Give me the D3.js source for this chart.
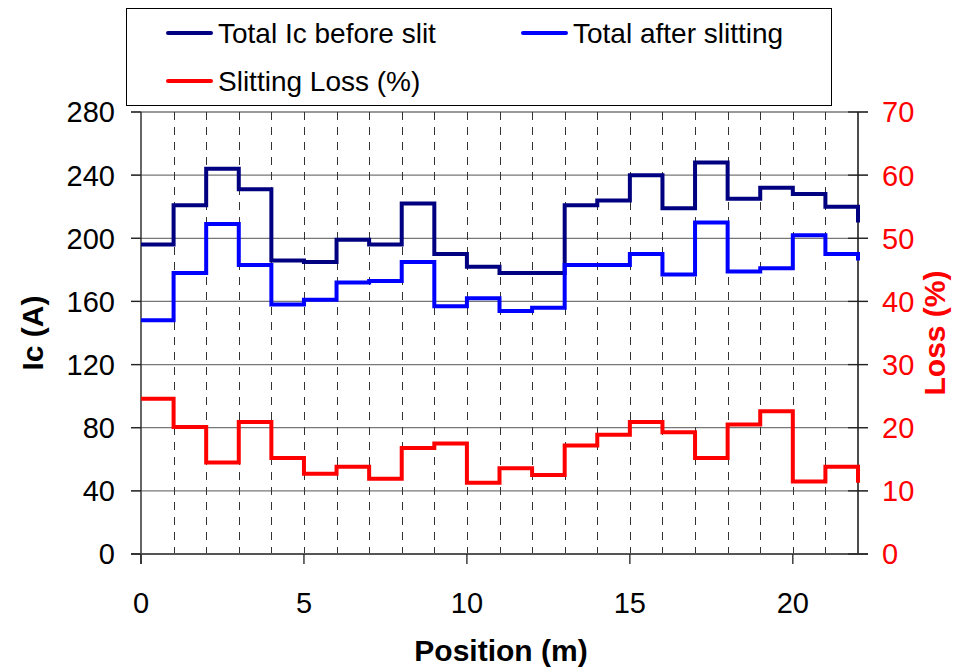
<!DOCTYPE html>
<html>
<head>
<meta charset="utf-8">
<script src="https://cdn.jsdelivr.net/npm/d3@7"></script>
<style>
  html, body { margin: 0; padding: 0; background: #fff; }
  svg { display: block; font-family: "Liberation Sans", Arial, sans-serif; }
</style>
</head>
<body>
<svg id="chart" width="958" height="669"></svg>
<script>
// ---- Data ----
const positions = [0,1,2,3,4,5,6,7,8,9,10,11,12,13,14,15,16,17,18,19,20,21,22];
const totalBefore = [196,221,244,231,186,185,199,196,222,190,182,178,178,221,224,240,219,248,225,232,228,220,210];
const totalAfter  = [148,178,209,183,158,161,172,173,185,157,162,154,156,183,183,190,177,210,179,181,202,190,186];
const slittingLoss = [24.6,20.1,14.5,20.9,15.2,12.7,13.8,11.9,16.8,17.5,11.3,13.6,12.5,17.2,18.9,20.9,19.3,15.2,20.5,22.6,11.5,13.8,11.3];
const xTicks = [0,5,10,15,20];
const xGrid = [1,2,3,4,5,6,7,8,9,10,11,12,13,14,15,16,17,18,19,20,21];
const yLeftTicks = [0,40,80,120,160,200,240,280];
const yRightTicks = [0,10,20,30,40,50,60,70];
const seriesNames = ["Total Ic before slit","Total after slitting","Slitting Loss (%)"];
const seriesColors = ["#000080","#0000FF","#FF0000"];

// ---- Layout ----
const L = 141, R = 858, T = 112, B = 554;
const svg = d3.select("#chart");

const x = d3.scaleLinear().domain([0,22]).range([L,R]);
const yL = d3.scaleLinear().domain([0,280]).range([B,T]);
const yR = d3.scaleLinear().domain([0,70]).range([B,T]);

// horizontal gridlines
svg.append("g").selectAll("line").data(yLeftTicks).join("line")
  .attr("x1", L - 10).attr("x2", R + 10)
  .attr("y1", d => yL(d)).attr("y2", d => yL(d))
  .attr("stroke", "#777").attr("stroke-width", 1.3);

// vertical dashed gridlines
svg.append("g").selectAll("line").data(xGrid).join("line")
  .attr("x1", d => Math.round(x(d)) + 0.5).attr("x2", d => Math.round(x(d)) + 0.5)
  .attr("y1", T).attr("y2", B)
  .attr("stroke", "#333").attr("stroke-width", 1)
  .attr("stroke-dasharray", "8,7");

// axes lines
svg.append("line").attr("x1", L).attr("x2", L).attr("y1", T).attr("y2", B + 10)
  .attr("stroke", "#333").attr("stroke-width", 1.5);
svg.append("line").attr("x1", R).attr("x2", R).attr("y1", T).attr("y2", B)
  .attr("stroke", "#111").attr("stroke-width", 1.5);
svg.append("line").attr("x1", L - 10).attr("x2", R + 10).attr("y1", B).attr("y2", B)
  .attr("stroke", "#555").attr("stroke-width", 1.8);

// left ticks
svg.append("g").selectAll("line").data(yLeftTicks).join("line")
  .attr("x1", L - 10).attr("x2", L)
  .attr("y1", d => yL(d)).attr("y2", d => yL(d))
  .attr("stroke", "#222").attr("stroke-width", 1.3);
// right ticks
svg.append("g").selectAll("line").data(yRightTicks).join("line")
  .attr("x1", R - 10).attr("x2", R + 10)
  .attr("y1", d => yR(d)).attr("y2", d => yR(d))
  .attr("stroke", "#222").attr("stroke-width", 1.3);
// x major ticks
svg.append("g").selectAll("line").data(xTicks).join("line")
  .attr("x1", d => x(d)).attr("x2", d => x(d))
  .attr("y1", B).attr("y2", B + 10)
  .attr("stroke", "#222").attr("stroke-width", 1.3);

// tick labels
svg.append("g").selectAll("text").data(yLeftTicks).join("text")
  .attr("x", 115).attr("y", d => yL(d)).attr("dy", "0.36em")
  .attr("text-anchor", "end").attr("font-size", 29).attr("fill", "#000")
  .text(d => d);
svg.append("g").selectAll("text").data(yRightTicks).join("text")
  .attr("x", 882).attr("y", d => yR(d)).attr("dy", "0.36em")
  .attr("text-anchor", "start").attr("font-size", 29).attr("fill", "#FF0000")
  .text(d => d);
svg.append("g").selectAll("text").data(xTicks).join("text")
  .attr("x", d => x(d)).attr("y", 603).attr("dy", "0.36em")
  .attr("text-anchor", "middle").attr("font-size", 29).attr("fill", "#000")
  .text(d => d);

// axis titles
svg.append("text").attr("x", 501).attr("y", 650).attr("dy", "0.36em")
  .attr("text-anchor", "middle").attr("font-size", 30).attr("font-weight", "bold")
  .text("Position (m)");
svg.append("text").attr("transform", `translate(32,${(T+B)/2}) rotate(-90)`)
  .attr("dy", "0.36em").attr("text-anchor", "middle").attr("font-size", 30).attr("font-weight", "bold")
  .text("Ic (A)");
svg.append("text").attr("transform", `translate(934,${(T+B)/2}) rotate(-90)`)
  .attr("dy", "0.36em").attr("text-anchor", "middle").attr("font-size", 30).attr("font-weight", "bold")
  .attr("fill", "#FF0000")
  .text("Loss (%)");

// series lines (step)
svg.append("clipPath").attr("id", "plotclip")
  .append("rect").attr("x", L - 3).attr("y", T - 3).attr("width", R - L + 6).attr("height", B - T + 6);

function stepLine(values, yScale, color) {
  const line = d3.line().x((d,i) => x(positions[i])).y(d => yScale(d)).curve(d3.curveStepAfter);
  svg.append("path").datum(values)
    .attr("d", line)
    .attr("fill", "none").attr("stroke", color).attr("stroke-width", 4)
    .attr("stroke-linejoin", "miter").attr("stroke-linecap", "butt")
    .attr("clip-path", "url(#plotclip)");
}
stepLine(totalBefore, yL, seriesColors[0]);
stepLine(totalAfter, yL, seriesColors[1]);
stepLine(slittingLoss, yR, seriesColors[2]);

// legend
svg.append("rect").attr("x", 126.5).attr("y", 8.5).attr("width", 705).attr("height", 97)
  .attr("fill", "#fff").attr("stroke", "#000").attr("stroke-width", 1);
const legendItems = [
  {name: seriesNames[0], color: seriesColors[0], lx: 168, ly: 33},
  {name: seriesNames[1], color: seriesColors[1], lx: 523, ly: 33},
  {name: seriesNames[2], color: seriesColors[2], lx: 168, ly: 81}
];
const lg = svg.append("g").selectAll("g").data(legendItems).join("g");
lg.append("line").attr("x1", d => d.lx).attr("x2", d => d.lx + 43)
  .attr("y1", d => d.ly).attr("y2", d => d.ly)
  .attr("stroke", d => d.color).attr("stroke-width", 4).attr("stroke-linecap", "round");
lg.append("text").attr("x", d => d.lx + 50).attr("y", d => d.ly).attr("dy", "0.36em")
  .attr("font-size", 28).attr("fill", "#000").text(d => d.name);
</script>
</body>
</html>
